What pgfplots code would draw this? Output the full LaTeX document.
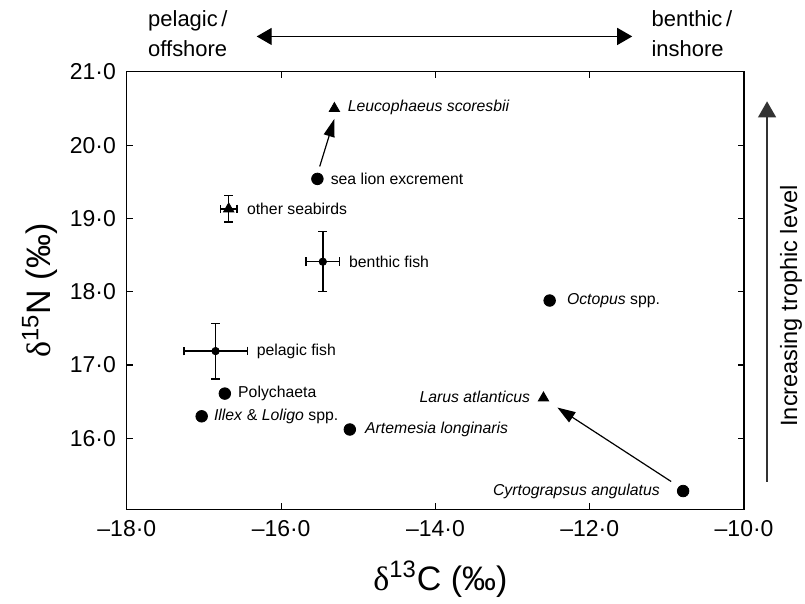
\documentclass[border=0pt]{standalone}
\usepackage{fontspec}
\setmainfont{Liberation Sans}
\newfontfamily\seriffont{Liberation Serif}
\usepackage{pgfplots}
\pgfplotsset{compat=1.18}
\usetikzlibrary{arrows.meta}

\newcommand{\lab}{\fontsize{7.9}{9}\selectfont}
\tikzset{lbl/.style={inner sep=0pt}}

\begin{document}
\begin{tikzpicture}
% page size: axis box at (0,0), 309pt x 219pt
\path[use as bounding box] (-63.5pt,-47pt) rectangle (339.5pt,255pt);

\begin{axis}[
    name=ax, at={(0,0)}, anchor=south west,
    scale only axis, width=309pt, height=219pt,
    xmin=-18, xmax=-10, ymin=15.03, ymax=21,
    xtick={-18,-16,-14,-12,-10},
    xticklabels={–18·0,–16·0,–14·0,–12·0,–10·0},
    ytick={16,17,18,19,20,21},
    yticklabels={16·0,17·0,18·0,19·0,20·0,21·0},
    tick label style={font=\fontsize{11.5}{13}\selectfont},
    xticklabel style={yshift=-2pt},
    yticklabel style={xshift=-2pt},
    major tick length=3pt,
    tick style={black, line width=0.6pt},
    axis line style={line width=0.6pt},
    clip=false,
]

% big circles
\addplot[only marks, mark=*, mark size=2.9pt, black] coordinates {
    (-15.53, 19.54) % sea lion excrement
    (-16.73, 16.61) % Polychaeta
    (-17.03, 16.30) % Illex & Loligo
    (-15.11, 16.12) % Artemesia
    (-12.52, 17.88) % Octopus
    (-10.79, 15.28) % Cyrtograpsus
};

% triangles
\addplot[only marks, mark=triangle*, mark size=3pt, black] coordinates {
    (-15.31, 20.50) % Leucophaeus scoresbii
    (-12.60, 16.55) % Larus atlanticus
};

% fish means with error bars
\addplot[only marks, mark=*, mark size=1.85pt, black,
    error bars/.cd, x dir=both, x explicit, y dir=both, y explicit,
    error bar style={line width=0.7pt, black},
    error mark options={rotate=90, mark size=2.2pt, line width=0.7pt, black},
] coordinates {
    (-15.46, 18.41) +- (0.22, 0.41) % benthic fish
    (-16.85, 17.19) +- (0.41, 0.38) % pelagic fish
};

% other seabirds
\addplot[only marks, mark=triangle*, mark size=3pt, black,
    error bars/.cd, x dir=both, x explicit, y dir=both, y explicit,
    error bar style={line width=0.7pt, black},
    error mark options={rotate=90, mark size=2.1pt, line width=0.7pt, black},
] coordinates {
    (-16.68, 19.13) +- (0.11, 0.18)
};

% arrows between consumers
\draw[line width=0.6pt, -{Triangle[length=9pt, width=5.5pt]}]
    (axis cs:-15.50,19.71) -- (axis cs:-15.31,20.36);
\draw[line width=0.6pt, -{Triangle[length=9pt, width=6pt]}]
    (axis cs:-10.945,15.41) -- (axis cs:-12.42,16.42);

% labels
\node[lbl, anchor=west, xshift=6.5pt] at (axis cs:-15.31,20.52) {\lab\itshape Leucophaeus scoresbii};
\node[lbl, anchor=west, xshift=6.5pt] at (axis cs:-15.53,19.54) {\lab sea lion excrement};
\node[lbl, anchor=west, xshift=9pt] at (axis cs:-16.68,19.13) {\lab other seabirds};
\node[lbl, anchor=west, xshift=13pt] at (axis cs:-15.46,18.41) {\lab benthic fish};
\node[lbl, anchor=west, xshift=20.5pt] at (axis cs:-16.85,17.19) {\lab pelagic fish};
\node[lbl, anchor=west, xshift=6.5pt] at (axis cs:-16.73,16.61) {\lab Polychaeta};
\node[lbl, anchor=west, xshift=6pt] at (axis cs:-17.03,16.30) {\lab\textit{Illex} \& \textit{Loligo} spp.};
\node[lbl, anchor=west, xshift=7.5pt] at (axis cs:-15.11,16.12) {\lab\itshape Artemesia longinaris};
\node[lbl, anchor=west, xshift=8.5pt] at (axis cs:-12.52,17.88) {\lab\textit{Octopus} spp.};
\node[lbl, anchor=east, xshift=-6.5pt] at (axis cs:-12.60,16.57) {\lab\itshape Larus atlanticus};
\node[lbl, anchor=east, xshift=-11.5pt] at (axis cs:-10.79,15.28) {\lab\itshape Cyrtograpsus angulatus};
\end{axis}

% axis titles
\node[font=\fontsize{17}{20}\selectfont] at (157pt,-35pt)
    {{\seriffont δ}\textsuperscript{13}C (‰)};
\node[font=\fontsize{17}{20}\selectfont, rotate=90] at (-43.5pt,109.5pt)
    {{\seriffont δ}\textsuperscript{15}N (‰)};

% pelagic / benthic gradient
\draw[line width=0.6pt, {Triangle[length=7.5pt, width=8.5pt]}-{Triangle[length=7.5pt, width=8.5pt]}]
    (65pt,236.75pt) -- (253pt,236.75pt);
\node[anchor=base west, inner sep=0pt, font=\fontsize{11}{13}\selectfont] at (10.5pt,241.75pt) {pelagic\,/};
\node[anchor=base west, inner sep=0pt, font=\fontsize{11}{13}\selectfont] at (10.5pt,226.75pt) {offshore};
\node[anchor=base west, inner sep=0pt, font=\fontsize{11}{13}\selectfont] at (262.5pt,241.75pt) {benthic\,/};
\node[anchor=base west, inner sep=0pt, font=\fontsize{11}{13}\selectfont] at (262.5pt,226.75pt) {inshore};

% trophic level arrow
\draw[line width=0.6pt, black!80, -{Triangle[length=8pt, width=9pt]}]
    (320.5pt,13.75pt) -- (320.5pt,204.25pt);
\node[rotate=90, font=\fontsize{11.8}{14}\selectfont] at (332.5pt,101.75pt) {Increasing trophic level};
\end{tikzpicture}
\end{document}
